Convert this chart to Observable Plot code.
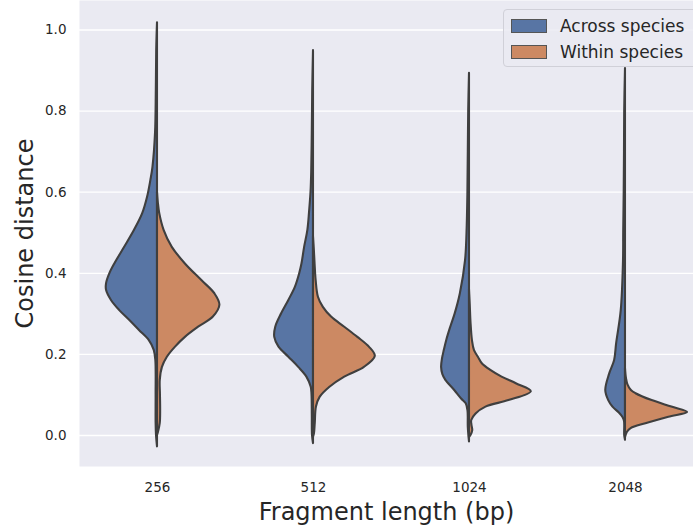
<!DOCTYPE html>
<html>
<head>
<meta charset="utf-8">
<script src="https://cdn.jsdelivr.net/npm/d3@7"></script>
<script src="https://cdn.jsdelivr.net/npm/@observablehq/plot@0.6"></script>
<style>
  html, body { margin: 0; padding: 0; background: #ffffff; overflow: hidden; }
  #wrap { position: relative; width: 693px; height: 529px; font-family: "DejaVu Sans", sans-serif; }
  .legend {
    position: absolute; left: 503px; top: 9px; width: 210px; height: 58px;
    background: rgba(234, 234, 242, 0.85); border: 1px solid #d0d0d8; border-radius: 4px;
    box-sizing: border-box; color: #262626; font-size: 17px;
  }
  .legend .row { position: absolute; left: 7px; display: flex; align-items: center; height: 16px; }
  .legend .sw { width: 34px; height: 12px; border: 1px solid #555; margin-right: 13px; flex: none; }
</style>
</head>
<body>
<div id="wrap"></div>
<script>
// Fragment lengths (categories) and the two comparison groups
const lengths = ["256", "512", "1024", "2048"];
const groups = ["Across species", "Within species"];
const colors = ["#5875a4", "#cc8963"];
const yTicks = [0, 0.2, 0.4, 0.6, 0.8, 1.0];

// Kernel density profiles: [cosine distance, density (arbitrary units)]
const across256 = [[1.018,0],[0.95,0.8],[0.85,1.2],[0.745,2],[0.661,4.6],[0.629,6.7],[0.588,10],[0.547,15],[0.506,23.3],[0.464,33.3],[0.423,43.3],[0.399,48.3],[0.374,51.7],[0.358,51.7],[0.333,46.7],[0.308,38.3],[0.284,28.3],[0.259,18.3],[0.234,8.3],[0.21,3.3],[0.185,1.7],[0.1,1.4],[0.03,1.4],[0.0,1.0],[-0.028,0]];
const within256 = [[0.6,0],[0.575,0.8],[0.547,2.3],[0.506,6.7],[0.464,15],[0.423,28.3],[0.382,45],[0.349,58.3],[0.321,63.3],[0.292,56.7],[0.267,41.7],[0.242,28.3],[0.218,18.3],[0.193,10],[0.168,5],[0.136,2.8],[0.1,3],[0.06,3.2],[0.03,2.8],[0.008,1],[0.0,0]];
const across512 = [[0.949,0],[0.85,0.8],[0.75,1.2],[0.65,1.8],[0.6,2.5],[0.55,4],[0.506,5.7],[0.464,9],[0.423,11.7],[0.399,14],[0.366,18.3],[0.333,25],[0.3,32.3],[0.267,38.3],[0.242,39.3],[0.218,35],[0.193,25],[0.168,15],[0.144,6.7],[0.119,2.3],[0.1,1.5],[0.05,1.2],[0.0,1.0],[-0.02,0]];
const within512 = [[0.49,0],[0.46,0.8],[0.423,1.6],[0.382,2.7],[0.341,5],[0.316,10],[0.292,18.3],[0.267,31.7],[0.242,45],[0.218,56.7],[0.195,62.7],[0.168,51.7],[0.144,31.7],[0.119,16.7],[0.094,6.7],[0.07,3],[0.03,1.8],[0.005,1],[-0.004,0]];
const across1024 = [[0.893,0],[0.8,0.8],[0.7,1.2],[0.6,1.6],[0.5,2.5],[0.431,4],[0.349,9.3],[0.3,14.5],[0.267,19],[0.235,23],[0.21,25.5],[0.19,27.3],[0.168,28.3],[0.15,27],[0.136,24],[0.111,15],[0.09,8],[0.078,3.3],[0.06,1.5],[0.02,1.2],[-0.016,0]];
const within1024 = [[0.36,0],[0.32,0.8],[0.28,1.5],[0.234,3],[0.21,5],[0.193,9],[0.177,13],[0.16,22],[0.144,33],[0.127,48],[0.108,62.7],[0.086,40],[0.07,16.7],[0.053,6.7],[0.037,2.3],[0.025,2.5],[0.012,3.3],[0.0,1.5],[-0.005,0]];
const across2048 = [[0.905,0],[0.8,0.8],[0.7,1],[0.6,1.3],[0.5,1.8],[0.431,2],[0.308,4.3],[0.226,9],[0.185,11],[0.152,16],[0.111,20],[0.086,17],[0.07,12.7],[0.055,6],[0.045,2.7],[0.035,1],[0.0,0.8],[-0.012,0]];
const within2048 = [[0.165,0],[0.14,1],[0.125,2.5],[0.111,6],[0.103,10.7],[0.086,27],[0.07,47],[0.057,63],[0.045,44],[0.029,20.7],[0.017,5.7],[0.008,2],[-0.005,0]];

const profiles = [
  [across256, within256],
  [across512, within512],
  [across1024, within1024],
  [across2048, within2048]
];

// Flatten into one table; each half is scaled so the widest reaches 0.4 of a category slot
const maxDensity = d3.max(profiles.flat(2), p => p[1]);
const rows = [];
profiles.forEach((pair, i) => {
  pair.forEach((prof, g) => {
    const side = g === 0 ? -1 : 1;
    prof.slice().sort((a, b) => a[0] - b[0]).forEach(([y, d]) => {
      rows.push({
        key: `${lengths[i]}-${g}`,
        group: groups[g],
        y,
        center: i,
        edge: i + side * (d / maxDensity) * 0.4
      });
    });
  });
});

const chart = Plot.plot({
  width: 693,
  height: 529,
  marginLeft: 79,
  marginRight: 0,
  marginTop: 0,
  marginBottom: 63,
  style: { fontFamily: "DejaVu Sans, sans-serif", fontSize: "13.5px", color: "#262626", background: "transparent" },
  x: { domain: [-0.5, 3.436], axis: null },
  y: { domain: [-0.0765, 1.0727], axis: null },
  color: { domain: groups, range: colors },
  marks: [
    Plot.frame({ fill: "#eaeaf2", stroke: null }),
    Plot.gridY(yTicks, { stroke: "#ffffff", strokeOpacity: 1, strokeWidth: 1.3 }),
    Plot.axisY(yTicks, { tickSize: 0, tickPadding: 13, tickFormat: d3.format(".1f"), label: null, fill: "#262626" }),
    Plot.axisX([0, 1, 2, 3], { tickSize: 0, tickPadding: 16, tickFormat: i => lengths[i], label: null, fill: "#262626" }),
    Plot.areaX(rows, {
      y: "y", x1: "center", x2: "edge", z: "key", fill: "group",
      stroke: "#3f3f3f", strokeWidth: 2.1, strokeLinejoin: "round",
      curve: "catmull-rom"
    }),
    Plot.text(["Fragment length (bp)"], {
      frameAnchor: "bottom", dy: 46, fontSize: 24, fill: "#262626",
      textAnchor: "middle", lineAnchor: "middle"
    }),
    Plot.text(["Cosine distance"], {
      frameAnchor: "left", dx: -54, rotate: -90, fontSize: 24, fill: "#262626",
      textAnchor: "middle", lineAnchor: "middle"
    })
  ]
});

const wrap = document.getElementById("wrap");
wrap.appendChild(chart);

// Legend drawn over the upper-right corner of the plot
const legend = document.createElement("div");
legend.className = "legend";
groups.forEach((g, k) => {
  const row = document.createElement("div");
  row.className = "row";
  row.style.top = (k === 0 ? 8 : 34) + "px";
  const sw = document.createElement("div");
  sw.className = "sw";
  sw.style.background = colors[k];
  const label = document.createElement("span");
  label.textContent = g;
  row.appendChild(sw);
  row.appendChild(label);
  legend.appendChild(row);
});
wrap.appendChild(legend);
</script>
</body>
</html>
